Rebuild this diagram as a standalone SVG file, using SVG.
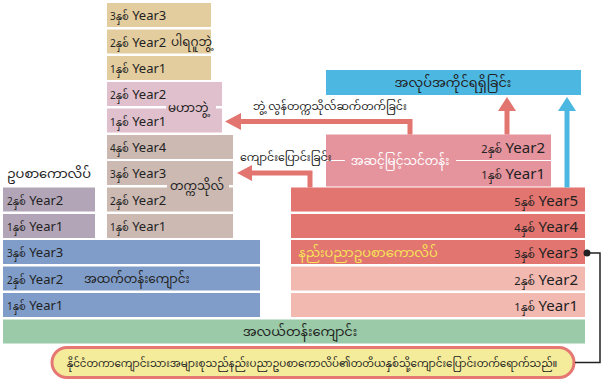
<svg xmlns="http://www.w3.org/2000/svg" width="609" height="383" viewBox="0 0 609 383">
<style>
text{font-family:"Noto Sans Myanmar","Padauk","Myanmar Text","Noto Sans",sans-serif;fill:#222}
.yl{font-size:13px}
.sm{font-size:10px}
.yr{font-size:15px;text-anchor:end;font-family:"Noto Sans",sans-serif}
.smr{font-size:11px;text-anchor:end}
.lbl{font-size:12px}
.tan{fill:#e3cd9f}
.pk{fill:#dfc0cc}
.br{fill:#cbb9b2}
.pu{fill:#b2a5b7}
.bl{fill:#809dc9}
.gr{fill:#9acaa7}
.rd{fill:#e27570}
.lr{fill:#f2b9b1}
.adv{fill:#e5939d}
</style>
<g id="phd">
<rect class="tan" x="107" y="3" width="104" height="24"/>
<rect class="tan" x="107" y="29.5" width="104" height="24"/>
<rect class="tan" x="107" y="56" width="104" height="24"/>
<text x="110" y="20"><tspan class="sm">3နှစ်</tspan><tspan class="yl"> Year3</tspan></text>
<text x="110" y="46.5"><tspan class="sm">2နှစ်</tspan><tspan class="yl"> Year2</tspan></text>
<text x="110" y="73"><tspan class="sm">1နှစ်</tspan><tspan class="yl"> Year1</tspan></text>
<text class="lbl" x="171" y="46">ပါရဂူဘွဲ့</text>
</g>
<g id="master">
<rect class="pk" x="107" y="82" width="115" height="24"/>
<rect class="pk" x="107" y="108.5" width="115" height="24"/>
<rect class="pk" x="166" y="100" width="50" height="16"/>
<text x="110" y="99"><tspan class="sm">2နှစ်</tspan><tspan class="yl"> Year2</tspan></text>
<text x="110" y="125.5"><tspan class="sm">1နှစ်</tspan><tspan class="yl"> Year1</tspan></text>
<text class="lbl" x="168" y="112">မဟာဘွဲ့</text>
</g>
<g id="university">
<rect class="br" x="107" y="135" width="126" height="24"/>
<rect class="br" x="107" y="161" width="126" height="24"/>
<rect class="br" x="107" y="187.5" width="126" height="24"/>
<rect class="br" x="107" y="214" width="126" height="24"/>
<rect class="br" x="167" y="178" width="62" height="16"/>
<text x="110" y="152"><tspan class="sm">4နှစ်</tspan><tspan class="yl"> Year4</tspan></text>
<text x="110" y="178"><tspan class="sm">3နှစ်</tspan><tspan class="yl"> Year3</tspan></text>
<text x="110" y="204.5"><tspan class="sm">2နှစ်</tspan><tspan class="yl"> Year2</tspan></text>
<text x="110" y="231"><tspan class="sm">1နှစ်</tspan><tspan class="yl"> Year1</tspan></text>
<text class="lbl" x="170" y="190">တက္ကသိုလ်</text>
</g>
<g id="intermediate">
<rect class="pu" x="3" y="187.5" width="92" height="24"/>
<rect class="pu" x="3" y="214" width="92" height="24"/>
<text x="7" y="204.5"><tspan class="sm">2နှစ်</tspan><tspan class="yl"> Year2</tspan></text>
<text x="7" y="231"><tspan class="sm">1နှစ်</tspan><tspan class="yl"> Year1</tspan></text>
<text x="7" y="178" style="font-size:13px">ဥပစာကောလိပ်</text>
</g>
<g id="highschool">
<rect class="bl" x="3" y="240" width="257" height="24"/>
<rect class="bl" x="3" y="266.5" width="257" height="24"/>
<rect class="bl" x="3" y="293" width="257" height="24"/>
<text x="7" y="257"><tspan class="sm">3နှစ်</tspan><tspan class="yl"> Year3</tspan></text>
<text x="7" y="283.5"><tspan class="sm">2နှစ်</tspan><tspan class="yl"> Year2</tspan></text>
<text x="7" y="310"><tspan class="sm">1နှစ်</tspan><tspan class="yl"> Year1</tspan></text>
<text class="lbl" x="84" y="283">အထက်တန်းကျောင်း</text>
</g>
<g id="middle">
<rect class="gr" x="3" y="319.5" width="582" height="24"/>
<text class="lbl" x="300" y="336" text-anchor="middle" style="font-size:13px">အလယ်တန်းကျောင်း</text>
</g>
<g id="technical">
<rect class="rd" x="291" y="187.5" width="294" height="24"/>
<rect class="rd" x="291" y="214" width="294" height="24"/>
<rect class="rd" x="291" y="240" width="294" height="24"/>
<rect class="lr" x="291" y="266.5" width="294" height="24"/>
<rect class="lr" x="291" y="293" width="294" height="24"/>
<text class="smr" x="535" y="205.5">5နှစ်</text><text class="yr" x="578" y="205.5">Year5</text>
<text class="smr" x="535" y="232">4နှစ်</text><text class="yr" x="578" y="232">Year4</text>
<text class="smr" x="535" y="258">3နှစ်</text><text class="yr" x="578" y="258">Year3</text>
<text class="smr" x="535" y="284.5">2နှစ်</text><text class="yr" x="578" y="284.5">Year2</text>
<text class="smr" x="535" y="311">1နှစ်</text><text class="yr" x="578" y="311">Year1</text>
<text x="368" y="257" text-anchor="middle" style="font-size:13px;fill:#f7e256">နည်းပညာဥပစာကောလိပ်</text>
</g>
<g id="advanced">
<rect class="adv" x="326" y="134.5" width="225" height="52"/>
<line x1="326" y1="160.5" x2="345" y2="160.5" stroke="#fff" stroke-width="1"/>
<line x1="456" y1="160.5" x2="551" y2="160.5" stroke="#fff" stroke-width="1"/>
<text class="smr" x="502" y="153">2နှစ်</text><text class="yr" x="545" y="153">Year2</text>
<text class="smr" x="502" y="179">1နှစ်</text><text class="yr" x="545" y="179">Year1</text>
<text x="400" y="164.5" text-anchor="middle" style="font-size:12px;fill:#fff">အဆင့်မြင့်သင်တန်း</text>
</g>
<g id="employment">
<rect x="326" y="70" width="255" height="25" fill="#4cb7e1"/>
<text x="453" y="87" text-anchor="middle" style="font-size:13px">အလုပ်အကိုင်ရရှိခြင်း</text>
</g>
<g id="note">
<rect x="52" y="347.5" width="522" height="30" rx="15" fill="#f5ec9b" stroke="#e57873" stroke-width="3"/>
<text x="312" y="366.5" text-anchor="middle" style="font-size:10.3px">နိုင်ငံတကာကျောင်းသားအများစုသည်နည်းပညာဥပစာကောလိပ်၏တတိယနှစ်သို့ကျောင်းပြောင်းတက်ရောက်သည်။</text>
</g>
<g id="connectors">
<polyline points="410,134.5 410,121.5 240,121.5" fill="none" stroke="#e37571" stroke-width="5"/>
<polygon points="225,121.5 241,113 241,130" fill="#e37571"/>
<text x="253" y="110" style="font-size:11px">ဘွဲ့ လွန်တက္ကသိုလ်ဆက်တက်ခြင်း</text>
<polyline points="310,187.5 310,173 251,173" fill="none" stroke="#e37571" stroke-width="5"/>
<polygon points="237,173 252,165 252,181" fill="#e37571"/>
<text x="240" y="161" style="font-size:11px">ကျောင်းပြောင်းခြင်း</text>
<line x1="507" y1="134.5" x2="507" y2="110" stroke="#e37571" stroke-width="5"/>
<polygon points="507,97 498,111 516,111" fill="#e37571"/>
<line x1="567" y1="187.5" x2="567" y2="110" stroke="#4cb7e1" stroke-width="5"/>
<polygon points="567,97 558,111 576,111" fill="#4cb7e1"/>
<polyline points="587,253 600,253 600,362.5 575,362.5" fill="none" stroke="#222" stroke-width="1.5"/>
<circle cx="587" cy="253" r="3.5" fill="#222"/>
</g>
</svg>
